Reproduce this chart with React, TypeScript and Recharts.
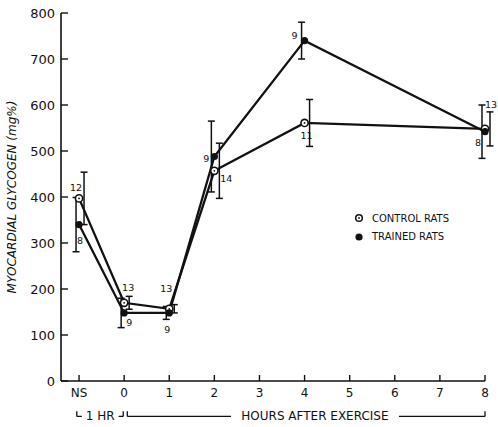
import React from 'react'
import {
  ComposedChart,
  Line,
  XAxis,
  YAxis,
  ErrorBar,
  ReferenceLine,
  ReferenceDot,
  Legend,
} from 'recharts'

// hours after exercise; -1 is the non-swim (NS) baseline
const hours = [-1, 0, 1, 2, 4, 8]
const hourTicks = [-1, 0, 1, 2, 3, 4, 5, 6, 7, 8]
const hourTickLabels = ['NS', '0', '1', '2', '3', '4', '5', '6', '7', '8']
const glycogenTicks = [0, 100, 200, 300, 400, 500, 600, 700, 800]

const controlMean = [397, 170, 157, 457, 561, 548]
const controlSE = [57, 14, 9, 60, 51, 37]
const controlN = [12, 13, 13, 14, 11, 13]

const trainedMean = [340, 148, 148, 488, 740, 542]
const trainedSE = [59, 32, 14, 77, 40, 58]
const trainedN = [8, 9, 9, 9, 9, 8]

// where each "n" sits around its point (px)
const controlNOffset = [[-3, -11], [4, -15], [-3, -20], [12, 8], [2, 13], [6, -24]]
const trainedNOffset = [[1, 16], [5, 10], [-2, 17], [-8, 2], [-10, -5], [-7, 11]]

const rows = hours.map((h, i) => ({
  hour: h,
  control: controlMean[i],
  controlErr: controlSE[i],
  trained: trainedMean[i],
  trainedErr: trainedSE[i],
}))

const FONT = '"DejaVu Sans", sans-serif'
const INK = '#111'

function HourTick(props: any) {
  const { x, y, payload } = props
  const idx = hourTicks.indexOf(payload.value)
  return (
    <g>
      <line x1={x} x2={x} y1={y} y2={y - 6} stroke={INK} strokeWidth={1.4} />
      <text x={x} y={y + 12} textAnchor="middle" dominantBaseline="central"
        fontFamily={FONT} fontSize={12} fill={INK}>
        {hourTickLabels[idx]}
      </text>
    </g>
  )
}

function GlycogenTick(props: any) {
  const { x, y, payload } = props
  return (
    <g>
      <line x1={x} x2={x + 7} y1={y} y2={y} stroke={INK} strokeWidth={1.4} />
      <text x={x - 6} y={y} textAnchor="end" dominantBaseline="central"
        fontFamily={FONT} fontSize={13} fill={INK}>
        {payload.value}
      </text>
    </g>
  )
}

function YTitle(props: any) {
  const vb = props.viewBox || { x: 0, y: 13, width: 61, height: 368 }
  const cx = vb.x + 12
  const cy = vb.y + vb.height / 2
  return (
    <text x={cx} y={cy} transform={`rotate(-90 ${cx} ${cy})`} textAnchor="middle"
      dominantBaseline="central" fontFamily={FONT} fontStyle="italic" fontSize={12} fill={INK}>
      MYOCARDIAL GLYCOGEN (mg%)
    </text>
  )
}

function BracketText(props: any) {
  const vb = props.viewBox
  const cx = vb.x + vb.width / 2
  const cy = vb.y + vb.height / 2
  const w = props.text.length * 8.2 + 4
  return (
    <g>
      <rect x={cx - w / 2} y={cy - 7} width={w} height={14} fill="#fff" />
      <text x={cx} y={cy} textAnchor="middle" dominantBaseline="central"
        fontFamily={FONT} fontSize={12} fill={INK}>
        {props.text}
      </text>
    </g>
  )
}

function nLabel(x: number, y: number, v: number) {
  return (
    <text x={x} y={y} textAnchor="middle" dominantBaseline="central"
      fontFamily={FONT} fontSize={9.5} fill={INK}>
      {v}
    </text>
  )
}

const controlDot = (p: any) => {
  const [dx, dy] = controlNOffset[p.index]
  return (
    <g key={`c-${p.index}`}>
      <circle cx={p.cx} cy={p.cy} r={3.6} fill="#fff" stroke={INK} strokeWidth={1.6} />
      <circle cx={p.cx} cy={p.cy} r={0.9} fill={INK} />
      {nLabel(p.cx + dx, p.cy + dy, controlN[p.index])}
    </g>
  )
}

const trainedDot = (p: any) => {
  const [dx, dy] = trainedNOffset[p.index]
  return (
    <g key={`t-${p.index}`}>
      <circle cx={p.cx} cy={p.cy} r={3.6} fill={INK} />
      {nLabel(p.cx + dx, p.cy + dy, trainedN[p.index])}
    </g>
  )
}

function RatLegend() {
  const row = { display: 'flex', alignItems: 'center', height: 18 }
  return (
    <div style={{ fontFamily: FONT, fontSize: 10, color: INK, whiteSpace: 'nowrap' }}>
      <div style={row}>
        <svg width={12} height={12} style={{ marginRight: 7 }}>
          <circle cx={6} cy={6} r={3.3} fill="#fff" stroke={INK} strokeWidth={1.5} />
          <circle cx={6} cy={6} r={0.9} fill={INK} />
        </svg>
        CONTROL RATS
      </div>
      <div style={row}>
        <svg width={12} height={12} style={{ marginRight: 7 }}>
          <circle cx={6} cy={7} r={3.6} fill={INK} />
        </svg>
        TRAINED RATS
      </div>
    </div>
  )
}

export default function App() {
  return (
    <div style={{ position: 'absolute', left: 0, top: 0, width: 498, height: 427, background: '#fff' }}>
      <ComposedChart width={498} height={427} data={rows}
        margin={{ top: 13, right: 13, bottom: 0, left: 0 }}>
        <XAxis dataKey="hour" type="number" domain={[-1.4, 8]} ticks={hourTicks} interval={0}
          height={46} tickSize={0} tickMargin={0} tickLine={false}
          axisLine={{ stroke: INK, strokeWidth: 1.6 }} tick={<HourTick />} />
        <YAxis type="number" domain={[0, 800]} ticks={glycogenTicks} interval={0}
          width={61} tickSize={0} tickMargin={0} tickLine={false}
          axisLine={{ stroke: INK, strokeWidth: 1.6 }} tick={<GlycogenTick />}
          label={<YTitle />} />

        {/* brackets under the axis */}
        <ReferenceLine ifOverflow="visible" stroke={INK} strokeWidth={1.3}
          segment={[{ x: -1.05, y: -66 }, { x: -1.05, y: -77 }]} />
        <ReferenceLine ifOverflow="visible" stroke={INK} strokeWidth={1.3}
          segment={[{ x: -1.05, y: -77 }, { x: -0.02, y: -77 }]} />
        <ReferenceLine ifOverflow="visible" stroke={INK} strokeWidth={1.3}
          segment={[{ x: -0.02, y: -77 }, { x: -0.02, y: -66 }]} />
        <ReferenceLine ifOverflow="visible" stroke={INK} strokeWidth={1.3}
          segment={[{ x: 0.07, y: -66 }, { x: 0.07, y: -77 }]} />
        <ReferenceLine ifOverflow="visible" stroke={INK} strokeWidth={1.3}
          segment={[{ x: 0.07, y: -77 }, { x: 8, y: -77 }]} />
        <ReferenceLine ifOverflow="visible" stroke={INK} strokeWidth={1.3}
          segment={[{ x: 8, y: -77 }, { x: 8, y: -66 }]} />
        <ReferenceDot x={-0.53} y={-76} r={0} ifOverflow="visible" fill="none" stroke="none"
          label={<BracketText text="1 HR" />} />
        <ReferenceDot x={4.23} y={-76} r={0} ifOverflow="visible" fill="none" stroke="none"
          label={<BracketText text="HOURS AFTER EXERCISE" />} />

        <Line dataKey="control" type="linear" stroke={INK} strokeWidth={2.3}
          dot={controlDot} activeDot={false} isAnimationActive={false}>
          <ErrorBar dataKey="controlErr" direction="y" width={3.5} stroke={INK} strokeWidth={1.5}
            transform="translate(5 0)" isAnimationActive={false} />
        </Line>
        <Line dataKey="trained" type="linear" stroke={INK} strokeWidth={2.3}
          dot={trainedDot} activeDot={false} isAnimationActive={false}>
          <ErrorBar dataKey="trainedErr" direction="y" width={3.5} stroke={INK} strokeWidth={1.5}
            transform="translate(-3 0)" isAnimationActive={false} />
        </Line>

        <Legend layout="vertical" align="center" verticalAlign="middle" content={<RatLegend />}
          wrapperStyle={{ left: 353, top: 209, width: 'auto', height: 'auto' }} />
      </ComposedChart>
    </div>
  )
}
